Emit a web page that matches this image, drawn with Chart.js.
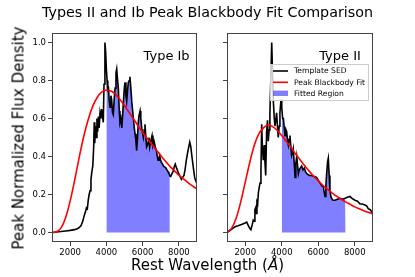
<!DOCTYPE html>
<html>
<head>
<meta charset="utf-8">
<script src="https://cdn.jsdelivr.net/npm/chart.js@4.4.0/dist/chart.umd.min.js"></script>
<style>
body { margin: 0; background: #fff; }
#wrap { position: relative; width: 415px; height: 277px; font-family: 'DejaVu Sans', sans-serif; color: #000; }
#wrap canvas { position: absolute; top: 0; }
#leftChart { left: 0; }
#rightChart { left: 210px; }
.lbl { position: absolute; white-space: nowrap; line-height: 1; }
#title { left: 0; width: 415px; text-align: center; top: 4.5px; font-size: 14.3px; }
#xlabel { left: 0; width: 415px; text-align: center; top: 258px; font-size: 15px; }
#ylabel { left: 19px; top: 137.5px; font-size: 15px; transform: translate(-50%, -50%) rotate(-90deg); }
</style>
</head>
<body>
<div id="wrap">
  <canvas id="leftChart" width="205" height="277"></canvas>
  <canvas id="rightChart" width="170" height="277"></canvas>
  <div class="lbl" id="title">Types II and Ib Peak Blackbody Fit Comparison</div>
  <div class="lbl" id="ylabel">Peak Normalized Flux Density</div>
  <div class="lbl" id="xlabel">Rest Wavelength (<i>Å</i>)</div>
</div>
<script>
let xTicks = [2000, 4000, 6000, 8000];
let yTicks = [0, 0.2, 0.4, 0.6, 0.8, 1.0];
let fitRange = [4000, 7500];
let legendLabels = ['Template SED', 'Peak Blackbody Fit', 'Fitted Region'];

// Type Ib template SED
let ibWave = [1000, 1250, 1500, 1750, 2000, 2250, 2450, 2600, 2700, 2780, 2850, 2900, 2950, 3000, 3050, 3100, 3150, 3200, 3250, 3300,
  3330, 3360, 3400, 3440, 3480, 3520, 3560, 3600, 3650, 3700, 3740, 3790, 3830, 3870, 3920, 3960, 4000, 4040, 4080, 4110,
  4160, 4200, 4250, 4290, 4340, 4380, 4430, 4480, 4530, 4570, 4620, 4660, 4710, 4750, 4800, 4850, 4900, 4940, 4990, 5030,
  5080, 5120, 5170, 5210, 5260, 5300, 5350, 5400, 5450, 5490, 5540, 5580, 5630, 5670, 5720, 5760, 5810, 5860, 5900, 5950,
  6000, 6040, 6090, 6130, 6180, 6220, 6270, 6310, 6350, 6390, 6450, 6520, 6570, 6630, 6700, 6760, 6810, 6850, 6900, 6940,
  6990, 7030, 7100, 7150, 7210, 7280, 7340, 7400, 7450, 7500, 7550, 7620, 7680, 7740, 7800, 7870, 7950, 8040, 8140, 8210,
  8280, 8340, 8410, 8500, 8600, 8660, 8720, 8800, 8870, 8940, 9000];
let ibFlux = [0.0, 0.003, 0.005, 0.008, 0.011, 0.015, 0.022, 0.035, 0.06, 0.09, 0.11, 0.13, 0.125, 0.17, 0.2, 0.22, 0.28, 0.32, 0.35, 0.45,
  0.58, 0.47, 0.56, 0.5, 0.6, 0.53, 0.61, 0.55, 0.63, 0.6, 0.65, 0.61, 0.58, 0.78, 1.0, 0.95, 0.86, 0.8, 0.74, 0.77,
  0.69, 0.66, 0.72, 0.7, 0.63, 0.62, 0.7, 0.76, 0.84, 0.86, 0.8, 0.76, 0.64, 0.58, 0.6, 0.55, 0.62, 0.69, 0.76, 0.79,
  0.72, 0.69, 0.75, 0.79, 0.8, 0.82, 0.76, 0.69, 0.64, 0.6, 0.55, 0.52, 0.48, 0.43, 0.5, 0.58, 0.62, 0.64, 0.6, 0.55,
  0.52, 0.5, 0.54, 0.57, 0.5, 0.45, 0.46, 0.48, 0.5, 0.45, 0.48, 0.51, 0.46, 0.48, 0.45, 0.43, 0.4, 0.38, 0.39, 0.405,
  0.38, 0.37, 0.36, 0.35, 0.345, 0.34, 0.33, 0.32, 0.31, 0.3, 0.295, 0.31, 0.32, 0.345, 0.36, 0.34, 0.32, 0.3, 0.28, 0.29,
  0.3, 0.33, 0.38, 0.43, 0.475, 0.45, 0.4, 0.34, 0.29, 0.27, 0.255];

// Type Ib peak blackbody fit
let ibBBWave = [1000, 1250, 1500, 1750, 2000, 2250, 2500, 2750, 3000, 3250, 3500, 3750, 4000, 4250, 4500, 4750, 5000,
  5250, 5500, 5750, 6000, 6250, 6500, 6750, 7000, 7250, 7500, 7750, 8000, 8250, 8500, 8750, 9000];
let ibBBFlux = [0.0, 0.004, 0.024, 0.078, 0.165, 0.275, 0.395, 0.505, 0.595, 0.665, 0.712, 0.74, 0.75, 0.745, 0.728, 0.7, 0.668,
  0.632, 0.597, 0.562, 0.528, 0.495, 0.464, 0.434, 0.405, 0.376, 0.349, 0.326, 0.302, 0.282, 0.263, 0.245, 0.229];

// Type II template SED
let iiWave = [1000, 1150, 1300, 1440, 1600, 1800, 1990, 2080, 2150, 2230, 2310, 2380, 2440, 2490, 2530, 2570, 2600, 2640, 2680, 2720,
  2770, 2810, 2860, 2900, 2940, 2990, 3040, 3080, 3120, 3170, 3220, 3260, 3310, 3350, 3400, 3450, 3500, 3540, 3590, 3630,
  3680, 3720, 3770, 3810, 3860, 3900, 3960, 4000, 4050, 4090, 4140, 4180, 4230, 4270, 4320, 4360, 4400, 4450, 4500, 4540,
  4590, 4630, 4680, 4730, 4770, 4820, 4870, 4910, 4960, 5020, 5090, 5160, 5240, 5300, 5370, 5450, 5520, 5640, 5780, 5910,
  6000, 6100, 6200, 6280, 6330, 6370, 6420, 6460, 6510, 6550, 6600, 6640, 6690, 6730, 6800, 6920, 7050, 7190, 7330, 7470,
  7500, 7600, 7740, 7850, 8010, 8150, 8290, 8420, 8560, 8650, 8740, 8850, 9000];
let iiFlux = [0.0, 0.01, 0.02, 0.03, 0.035, 0.042, 0.05, 0.055, 0.04, 0.025, 0.015, 0.04, 0.065, 0.06, 0.12, 0.13, 0.1, 0.16, 0.15, 0.21,
  0.24, 0.26, 0.32, 0.57, 0.45, 0.38, 0.46, 0.37, 0.3, 0.53, 0.59, 0.48, 0.54, 0.62, 0.8, 1.0, 0.82, 0.69, 0.6, 0.56,
  0.6, 0.63, 0.55, 0.5, 0.56, 0.63, 0.7, 0.66, 0.6, 0.6, 0.55, 0.51, 0.54, 0.53, 0.48, 0.46, 0.49, 0.51, 0.45, 0.405,
  0.42, 0.44, 0.37, 0.29, 0.36, 0.4, 0.35, 0.31, 0.33, 0.34, 0.35, 0.33, 0.34, 0.32, 0.31, 0.305, 0.3, 0.3, 0.295, 0.29,
  0.275, 0.26, 0.245, 0.24, 0.21, 0.19, 0.25, 0.31, 0.37, 0.39, 0.3, 0.22, 0.19, 0.18, 0.17, 0.17, 0.175, 0.18, 0.175, 0.18,
  0.18, 0.185, 0.19, 0.18, 0.17, 0.165, 0.15, 0.15, 0.145, 0.14, 0.125, 0.12, 0.1];

// Type II peak blackbody fit
let iiBBWave = [1000, 1250, 1500, 1750, 2000, 2250, 2500, 2750, 3000, 3250, 3500, 3750, 4000, 4250, 4500, 4750, 5000,
  5250, 5500, 5750, 6000, 6250, 6500, 6750, 7000, 7250, 7500, 7750, 8000, 8250, 8500, 8750, 9000];
let iiBBFlux = [0.003, 0.022, 0.075, 0.16, 0.265, 0.37, 0.46, 0.52, 0.55, 0.567, 0.557, 0.538, 0.51, 0.479, 0.45, 0.414, 0.383,
  0.352, 0.323, 0.296, 0.272, 0.248, 0.228, 0.209, 0.191, 0.175, 0.161, 0.148, 0.135, 0.125, 0.115, 0.106, 0.098];

const fitBlue = 'rgba(0, 0, 255, 0.5)';
const frameColor = '#444';

let panelDecor = {
    id: 'panelDecor',
    afterDatasetsDraw(chart, args, opts) {
        let ctx = chart.ctx;
        let a = chart.chartArea;
        ctx.save();
        ctx.strokeStyle = frameColor;
        ctx.lineWidth = 1;
        ctx.strokeRect(a.left + 0.5, a.top + 0.5, a.right - a.left - 1, a.bottom - a.top - 1);

        ctx.fillStyle = '#000';
        ctx.font = '13px "DejaVu Sans"';
        ctx.textAlign = 'left';
        ctx.textBaseline = 'alphabetic';
        ctx.fillText(opts.name, chart.scales.x.getPixelForValue(6050), chart.scales.y.getPixelForValue(0.909));

        if (opts.legend) {
            let lx = a.left + 43, ly = a.top + 31, lw = 99, lh = 37;
            ctx.fillStyle = 'rgba(255,255,255,0.8)';
            ctx.fillRect(lx, ly, lw, lh);
            ctx.strokeStyle = '#ccc';
            ctx.strokeRect(lx + 0.5, ly + 0.5, lw - 1, lh - 1);
            let rows = [ly + 7, ly + 18.3, ly + 29.3];
            ctx.lineWidth = 1.6;
            ctx.strokeStyle = '#000';
            ctx.beginPath(); ctx.moveTo(lx + 3, rows[0]); ctx.lineTo(lx + 18, rows[0]); ctx.stroke();
            ctx.strokeStyle = '#ff0000';
            ctx.beginPath(); ctx.moveTo(lx + 3, rows[1]); ctx.lineTo(lx + 18, rows[1]); ctx.stroke();
            ctx.fillStyle = fitBlue;
            ctx.fillRect(lx + 3, rows[2] - 2.7, 15, 5.4);
            ctx.fillStyle = '#000';
            ctx.font = '7.6px "DejaVu Sans"';
            ctx.textBaseline = 'middle';
            legendLabels.forEach((t, i) => ctx.fillText(t, lx + 24, rows[i] + 0.5));
        }
        ctx.restore();
    }
};

function makeChart(canvasId, wave, flux, bbWave, bbFlux, name, opts) {
    let sed = wave.map((w, i) => ({ x: w, y: flux[i] }));
    let bb = bbWave.map((w, i) => ({ x: w, y: bbFlux[i] }));
    let fitted = sed.filter(p => p.x >= fitRange[0] && p.x <= fitRange[1]);

    let ctx = document.getElementById(canvasId).getContext('2d');
    return new Chart(ctx, {
        type: 'line',
        data: {
            datasets: [
                { label: legendLabels[2], data: fitted, order: 3, fill: 'origin', backgroundColor: fitBlue,
                  borderColor: 'rgba(0,0,255,0)', borderWidth: 0, pointRadius: 0, tension: 0 },
                { label: legendLabels[0], data: sed, order: 2, fill: false, borderColor: '#000',
                  borderWidth: 1.6, pointRadius: 0, tension: 0 },
                { label: legendLabels[1], data: bb, order: 1, fill: false, borderColor: '#ff0000',
                  borderWidth: 1.6, pointRadius: 0, cubicInterpolationMode: 'monotone' }
            ]
        },
        options: {
            responsive: false,
            animation: false,
            devicePixelRatio: 1,
            layout: { padding: { top: 33, right: opts.padRight, left: 0, bottom: 0 } },
            plugins: {
                legend: { display: false },
                tooltip: { enabled: false },
                panelDecor: { name: name, legend: opts.legend }
            },
            scales: {
                x: {
                    type: 'linear', min: 1000, max: 9000,
                    afterBuildTicks: s => { s.ticks = xTicks.map(v => ({ value: v })); },
                    afterFit: s => { s.height = 35; },
                    border: { display: false },
                    grid: { drawOnChartArea: false, drawTicks: true, tickLength: 4, color: frameColor },
                    ticks: { color: '#000', font: { size: 8.5 }, padding: 2, maxRotation: 0, callback: v => String(v) }
                },
                y: {
                    type: 'linear', min: -0.05, max: 1.05,
                    afterBuildTicks: s => { s.ticks = yTicks.map(v => ({ value: v })); },
                    afterFit: s => { s.width = opts.yWidth; },
                    border: { display: false },
                    grid: { drawOnChartArea: false, drawTicks: true, tickLength: 4, color: frameColor },
                    ticks: { display: opts.yLabels, color: '#000', font: { size: 8.5 }, padding: 2, callback: v => v.toFixed(1) }
                }
            }
        },
        plugins: [panelDecor]
    });
}

Chart.defaults.font.family = '"DejaVu Sans", sans-serif';
makeChart('leftChart', ibWave, ibFlux, ibBBWave, ibBBFlux, 'Type Ib', { padRight: 8, yWidth: 52, yLabels: true, legend: false });
makeChart('rightChart', iiWave, iiFlux, iiBBWave, iiBBFlux, 'Type II', { padRight: 7, yWidth: 17, yLabels: false, legend: true });
</script>
</body>
</html>
